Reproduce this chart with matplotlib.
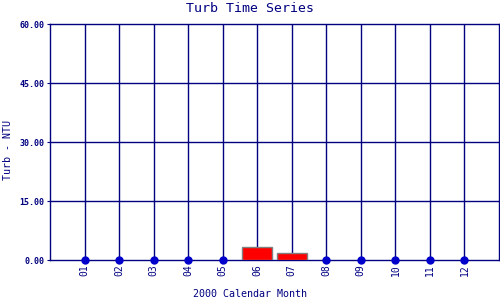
import numpy as np
import matplotlib
matplotlib.use('Agg')
import matplotlib.pyplot as plt

# monthly turbidity, 2000
months = ['01', '02', '03', '04', '05', '06', '07', '08', '09', '10', '11', '12']
turb = [0, 0, 0, 0, 0, 3.2, 1.7, 0, 0, 0, 0, 0]
y_ticks = [0, 15, 30, 45, 60]

navy = '#000080'
plt.rcParams['font.family'] = 'DejaVu Sans Mono'

fig = plt.figure(figsize=(5, 3), dpi=100)
ax = fig.add_axes([0.1, 0.1333, 0.898, 0.7867])

x = np.arange(1, len(months) + 1)
vals = np.array(turb)

# grid
for xi in x:
    ax.axvline(xi, color=navy, lw=1, zorder=1)
for yt in y_ticks[1:-1]:
    ax.axhline(yt, color=navy, lw=1, zorder=1)

has = vals > 0
ax.bar(x[has], vals[has], width=0.87, color='#ff0000', edgecolor='#808080', lw=1, zorder=3)
ax.plot(x[~has], vals[~has], 'o', color='#0000cc', ms=5, clip_on=False, zorder=4)

ax.set_xlim(0, 13)
ax.set_ylim(0, 60)
ax.set_xticks(x)
ax.set_xticklabels(months, rotation=90, fontsize=7, color=navy)
ax.set_yticks(y_ticks)
ax.set_yticklabels(['%.2f' % v for v in y_ticks], fontsize=6, fontweight='bold', color=navy)
ax.tick_params(axis='x', length=0, pad=3)
ax.tick_params(axis='y', length=2, color=navy, pad=2)
for s in ax.spines.values():
    s.set_color(navy)
    s.set_linewidth(1)

fig.text(0.5, 0.972, 'Turb Time Series', ha='center', va='center', fontsize=9.5, color=navy)
fig.text(0.5, 0.02, '2000 Calendar Month', ha='center', va='center', fontsize=7.2, color=navy)
fig.text(0.016, 0.5, 'Turb - NTU', ha='center', va='center', rotation=90, fontsize=7.2, color=navy)

plt.savefig('out.png', dpi=100, facecolor='white')
